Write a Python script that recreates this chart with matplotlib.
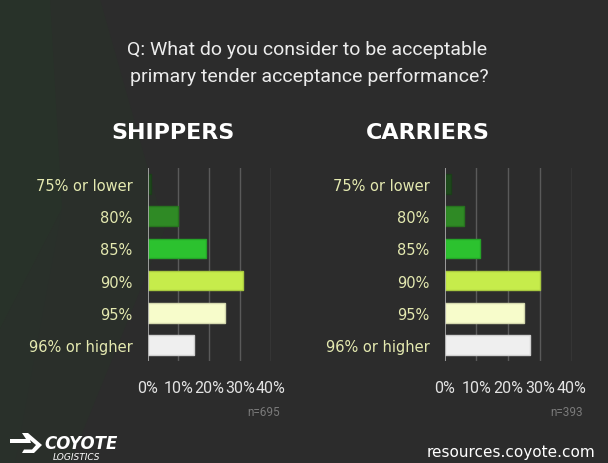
import matplotlib.pyplot as plt
from matplotlib.patches import Polygon

# データ
categories = ["75% or lower", "80%", "85%", "90%", "95%", "96% or higher"]
shippers = [1, 10, 19, 31, 25, 15]
carriers = [2, 6, 11, 30, 25, 27]
bar_colors = ["#1e4a1c", "#2f8a25", "#2cc22f", "#c6ec4b", "#f7fccb", "#efefef"]
edge_colors = ["#1a3e18", "#27731f", "#25a428", "#a8c93f", "#d4d8ad", "#cfcfcf"]
xticks = [0, 10, 20, 30, 40]
xtick_labels = ["0%", "10%", "20%", "30%", "40%"]

W, H = 608, 464
bg = "#2c2c2c"
label_color = "#e4e9b0"
narrow = ["Liberation Sans Narrow", "Roboto", "DejaVu Sans"]

fig = plt.figure(figsize=(W / 100, H / 100), dpi=100)
fig.patch.set_facecolor(bg)

# 左側の背景模様（緑がかった斜めの帯）
def px(x, y):
    return (x / W, 1 - y / H)

bg_shapes = [
    ([(0, 0), (100, 0), (165, 230), (70, 464), (0, 464)], "#2a2f2a"),
    ([(0, 0), (50, 0), (62, 210), (0, 330)], "#283229"),
    ([(0, 330), (62, 210), (15, 464), (0, 464)], "#29302a"),
]
for pts, c in bg_shapes:
    fig.patches.append(Polygon([px(*p) for p in pts], closed=True, facecolor=c,
                               edgecolor="none", transform=fig.transFigure, zorder=-5))


def draw_panel(left_px, right_px, values, title, title_x, n_text, n_x):
    top_px, bot_px = 169.3, 361.7
    ax = fig.add_axes([left_px / W, 1 - bot_px / H, (right_px - left_px) / W, (bot_px - top_px) / H])
    ax.set_facecolor("none")
    y = list(range(len(categories)))
    ax.barh(y, values, height=0.62, color=bar_colors, edgecolor=edge_colors, linewidth=1, zorder=3)
    ax.set_ylim(len(categories) - 0.5, -0.5)
    ax.set_xlim(0, 40)
    for t in xticks[1:]:
        ax.axvline(t, color="#5a5a5a", linewidth=1, zorder=1)
    ax.axvline(0, color="#b0b0b0", linewidth=1.2, zorder=4)
    for s in ax.spines.values():
        s.set_visible(False)
    ax.set_xticks(xticks)
    ax.set_xticklabels(xtick_labels, family=narrow, fontsize=11.5, color="#e2e2e2")
    ax.set_yticks(y)
    ax.set_yticklabels(categories, fontsize=10.5, color=label_color)
    ax.tick_params(axis="x", length=0, pad=14)
    ax.tick_params(axis="y", length=0, pad=11)
    fig.text(title_x / W, 1 - 133 / H, title, ha="center", va="center",
             fontsize=16, fontweight="bold", color="white")
    fig.text(n_x / W, 1 - 412 / H, n_text, ha="right", va="center",
             family=narrow, fontsize=8.5, color="#7a7a7a")
    return ax


draw_panel(147.7, 270.7, shippers, "SHIPPERS", 173, "n=695", 280)
draw_panel(444.7, 571.7, carriers, "CARRIERS", 428, "n=393", 583)

# タイトル
fig.text(307 / W, 1 - 50 / H, "Q: What do you consider to be acceptable", ha="center", va="center",
         family=narrow, fontsize=14, color="#ececec")
fig.text(309 / W, 1 - 77 / H, "primary tender acceptance performance?", ha="center", va="center",
         family=narrow, fontsize=14, color="#ececec")

# フッター
fig.text(595 / W, 1 - 453 / H, "resources.coyote.com", ha="right", va="center",
         fontsize=11, color="white")
fig.text(44 / W, 1 - 444 / H, "COYOTE", ha="left", va="center", fontsize=12,
         fontweight="bold", fontstyle="italic", color="white")
fig.text(53 / W, 1 - 458 / H, "LOGISTICS", ha="left", va="center", fontsize=6.5,
         fontstyle="italic", color="white")
logo = [(10, 440), (26, 440), (22, 434), (28, 434), (42, 446), (34, 454), (22, 454),
        (24, 450.5), (32, 450.5), (36, 446), (30, 441), (31, 444), (10, 444)]
fig.patches.append(Polygon([px(*p) for p in logo], closed=True, facecolor="white",
                           edgecolor="none", transform=fig.transFigure, zorder=2))

fig.savefig("out.png", dpi=100, facecolor=bg)
